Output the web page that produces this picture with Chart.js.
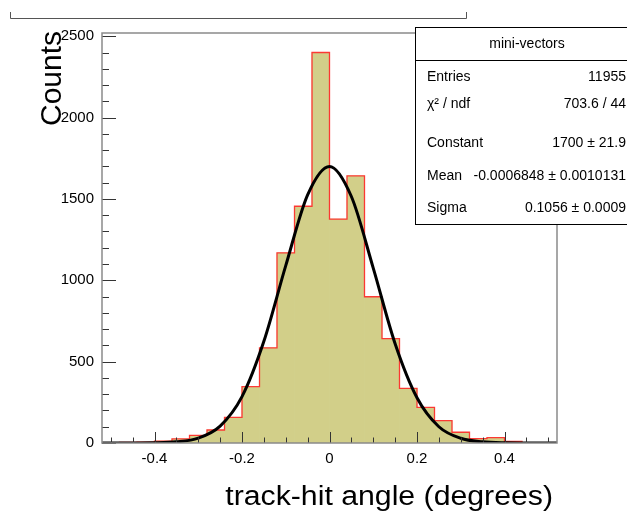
<!DOCTYPE html>
<html lang="en">
<head>
<meta charset="UTF-8">
<title>mini-vectors - track-hit angle</title>
<style>
  html, body { margin: 0; padding: 0; background: #fff; }
</style>
</head>
<body>
<canvas id="myChart" width="627" height="512"></canvas>

<script src="https://cdn.jsdelivr.net/npm/chart.js@4.4.1/dist/chart.umd.min.js"></script>
<script>
// histogram bins (degrees), 26 bins of width 0.04
const binEdges = [-0.52, -0.48, -0.44, -0.40, -0.36, -0.32, -0.28, -0.24, -0.20, -0.16, -0.12, -0.08, -0.04,
                  0.00, 0.04, 0.08, 0.12, 0.16, 0.20, 0.24, 0.28, 0.32, 0.36, 0.40, 0.44, 0.48, 0.52];
const counts = [2, 3, 5, 12, 25, 47, 80, 158, 346, 585, 1169, 1455, 2400,
                1376, 1642, 899, 642, 336, 219, 137, 66, 27, 33, 10, 2, 2];

// gaussian fit curve
const fitX = [-0.52, -0.45, -0.40, -0.35, -0.30, -0.25, -0.20, -0.15, -0.10, -0.05, 0.00,
              0.05, 0.10, 0.15, 0.20, 0.25, 0.30, 0.35, 0.40, 0.45, 0.52];
const fitY = [0, 0, 1, 7, 30, 104, 285, 625, 1090, 1525, 1700,
              1515, 1075, 610, 278, 100, 29, 7, 1, 0, 0];

const xTicks = [-0.4, -0.2, 0, 0.2, 0.4];
const yTicks = [0, 500, 1000, 1500, 2000, 2500];

const statsTitle = 'mini-vectors';
const statsRows = [
    ['Entries', '11955', 77],
    ['\u03C7\u00B2 / ndf', '703.6 / 44', 104],
    ['Constant', '1700 \u00B1 21.9', 143],
    ['Mean', '-0.0006848 \u00B1 0.0010131', 176],
    ['Sigma', '0.1056 \u00B1 0.0009', 208]
];

const FONT = '"Liberation Sans", Arial, Helvetica, sans-serif';

const bars = counts.map((c, i) => ({ x: (binEdges[i] + binEdges[i + 1]) / 2, y: c }));
const outline = binEdges.map((e, i) => ({ x: e, y: counts[Math.min(i, counts.length - 1)] }));
const fit = fitX.map((v, i) => ({ x: v, y: fitY[i] }));

const rootLook = {
    id: 'rootLook',
    afterDatasetsDraw(chart) {
        const { ctx, chartArea: a, scales: { x, y } } = chart;
        ctx.save();
        // ticks pointing into the frame
        ctx.strokeStyle = '#333';
        ctx.lineWidth = 1;
        ctx.beginPath();
        for (let v = 0; v <= 2500; v += 100) {
            const py = Math.round(y.getPixelForValue(v)) + 0.5;
            const len = v % 500 === 0 ? 14 : 7;
            ctx.moveTo(a.left, py);
            ctx.lineTo(a.left + len, py);
        }
        for (let i = -10; i <= 10; i++) {
            const px = Math.round(x.getPixelForValue(i * 0.05)) + 0.5;
            const len = i % 4 === 0 ? 11 : 5.5;
            ctx.moveTo(px, a.bottom);
            ctx.lineTo(px, a.bottom - len);
        }
        ctx.stroke();
        // frame
        ctx.strokeStyle = '#8a8a8a';
        ctx.lineWidth = 1.5;
        ctx.strokeRect(a.left, a.top, a.right - a.left, a.bottom - a.top);
        ctx.restore();
    },
    afterDraw(chart) {
        const { ctx } = chart;
        ctx.save();
        // remains of the title box
        ctx.strokeStyle = '#555';
        ctx.lineWidth = 1;
        ctx.beginPath();
        ctx.moveTo(10.5, 12);
        ctx.lineTo(10.5, 18.5);
        ctx.lineTo(466.5, 18.5);
        ctx.lineTo(466.5, 12);
        ctx.stroke();

        // stats box
        ctx.fillStyle = '#fff';
        ctx.fillRect(416, 27, 220, 198);
        ctx.strokeStyle = '#000';
        ctx.strokeRect(415.5, 27.5, 220, 197);
        ctx.beginPath();
        ctx.moveTo(416, 60.5);
        ctx.lineTo(627, 60.5);
        ctx.stroke();

        ctx.fillStyle = '#000';
        ctx.font = '14px ' + FONT;
        ctx.textBaseline = 'middle';
        ctx.textAlign = 'center';
        ctx.fillText(statsTitle, 527, 44);
        statsRows.forEach(([label, value, yy]) => {
            ctx.textAlign = 'left';
            ctx.fillText(label, 427, yy);
            ctx.textAlign = 'right';
            ctx.fillText(value, 626, yy);
        });

        // axis titles
        ctx.textBaseline = 'alphabetic';
        ctx.font = '27px ' + FONT;
        ctx.save();
        ctx.translate(553, 505);
        ctx.scale(1.12, 1);
        ctx.textAlign = 'right';
        ctx.fillText('track-hit angle (degrees)', 0, 0);
        ctx.restore();

        ctx.font = '30px ' + FONT;
        ctx.save();
        ctx.translate(61, 126);
        ctx.rotate(-Math.PI / 2);
        ctx.textAlign = 'left';
        ctx.fillText('Counts', 0, 0);
        ctx.restore();
        ctx.restore();
    }
};

const ctx = document.getElementById('myChart');
const myChart = new Chart(ctx, {
    type: 'bar',
    data: {
        datasets: [
            {
                type: 'line',
                label: 'fit',
                data: fit,
                borderColor: '#000',
                borderWidth: 3,
                pointRadius: 0,
                cubicInterpolationMode: 'monotone',
                fill: false,
                order: 1
            },
            {
                type: 'line',
                label: 'outline',
                data: outline,
                borderColor: 'rgba(255, 40, 40, 0.9)',
                borderWidth: 1.3,
                pointRadius: 0,
                stepped: 'before',
                fill: false,
                order: 2
            },
            {
                label: 'mini-vectors',
                data: bars,
                backgroundColor: '#d2cf89',
                borderWidth: 0,
                barPercentage: 1.0,
                categoryPercentage: 1.0,
                order: 3
            }
        ]
    },
    options: {
        responsive: false,
        animation: false,
        layout: { padding: { left: 0, top: 33, right: 70, bottom: 0 } },
        plugins: {
            legend: { display: false },
            tooltip: { enabled: false }
        },
        scales: {
            x: {
                type: 'linear',
                min: -0.52,
                max: 0.52,
                offset: false,
                grid: { display: false, drawTicks: false },
                border: { display: false },
                afterBuildTicks: s => { s.ticks = xTicks.map(v => ({ value: v })); },
                afterFit: s => { s.height = 69; },
                ticks: {
                    padding: 7,
                    color: '#000',
                    font: { family: FONT, size: 15 },
                    callback: v => String(Math.round(v * 10) / 10)
                }
            },
            y: {
                min: 0,
                max: 2520,
                grid: { display: false, drawTicks: false },
                border: { display: false },
                afterBuildTicks: s => { s.ticks = yTicks.map(v => ({ value: v })); },
                afterFit: s => { s.width = 102; },
                ticks: {
                    padding: 8,
                    color: '#000',
                    font: { family: FONT, size: 15 },
                    callback: v => String(v)
                }
            }
        }
    },
    plugins: [rootLook]
});
</script>
</body>
</html>
